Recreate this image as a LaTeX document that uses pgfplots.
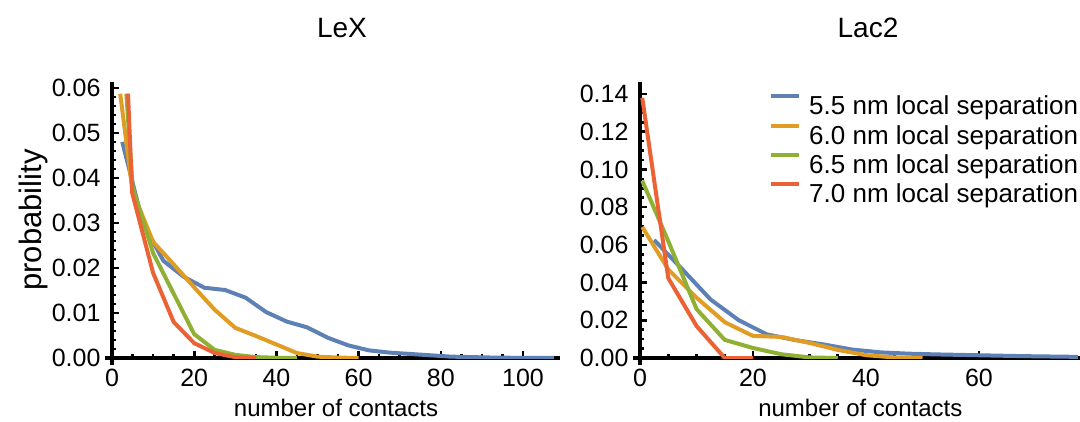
\documentclass[border=0pt]{standalone}
\usepackage{pgfplots}
\pgfplotsset{compat=1.18}
\usepackage{fontspec}
\setmainfont{Liberation Sans}
\definecolor{cB}{HTML}{5E81B5}
\definecolor{cO}{HTML}{E19C24}
\definecolor{cG}{HTML}{8FB032}
\definecolor{cR}{HTML}{EB6235}
\pgfplotsset{
 mstyle/.style={
  scale only axis, axis lines=left,
  axis line style={-, line width=3.2pt, black},
  x axis line style={shorten <=-7pt},
  y axis line style={shorten <=-7pt},
  tick align=inside,
  major tick length=7pt, minor tick length=4pt,
  every tick/.append style={black, line width=2.6pt},
  tick label style={font=\fontsize{25}{30}\selectfont},
  /pgf/number format/assume math mode=true,
  yticklabel style={/pgf/number format/fixed, /pgf/number format/fixed zerofill, /pgf/number format/precision=2, xshift=-8pt},
  xticklabel style={yshift=-8pt},
  scaled y ticks=false,
  xmin=0, ymin=0,
  minor x tick num=3,
  label style={font=\fontsize{24}{28}\selectfont},
  xlabel style={at={(axis description cs:0.5,0)}, anchor=base, yshift=-58pt},
  every axis plot/.append style={line width=4pt, line join=round, mark=none},
 }
}
\begin{document}
\begin{tikzpicture}
\begin{axis}[mstyle,
  at={(112pt,63pt)}, anchor=south west,
  width=448pt, height=276pt,
  xmax=109, ymax=0.0613,
  xtick={0,20,40,60,80,100},
  ytick={0,0.01,0.02,0.03,0.04,0.05,0.06},
  minor y tick num=4,
  xlabel={number of contacts},
  ylabel={probability},
  ylabel style={at={(axis description cs:-0.176,0.5)}, anchor=center, font=\fontsize{31}{36}\selectfont},
]
\addplot[cB] coordinates {(2.5,0.048) (7.5,0.030) (12.5,0.0216) (17.5,0.0180) (22.5,0.0156) (27.5,0.0151) (32.5,0.0134) (37.5,0.0102) (42.5,0.0081) (47.5,0.0068) (52.5,0.0045) (57.5,0.0028) (62.5,0.0017) (67.5,0.0012) (72.5,0.0009) (77.5,0.0006) (82.5,0.0003) (87.5,0.0002) (92.5,0.0001) (97.5,0.00005) (102.5,0.00003) (107.5,0.00001)};
\addplot[cO] coordinates {(2.0,0.0587) (5,0.037) (10,0.0258) (15,0.0208) (20,0.0157) (25,0.0107) (30,0.0067) (35,0.0049) (40,0.0030) (45,0.0011) (50,0.0003) (55,0.0001) (60,0)};
\addplot[cG] coordinates {(3.5,0.0587) (5,0.038) (10,0.0233) (15,0.0143) (20,0.0053) (25,0.0018) (30,0.0007) (35,0.0002) (40,0.00005) (45,0)};
\addplot[cR] coordinates {(3.9,0.0587) (4.9,0.0367) (10,0.0189) (15,0.0080) (20,0.0033) (25,0.0011) (30,0.0002) (35,0)};
\end{axis}
\begin{axis}[mstyle,
  at={(640pt,63pt)}, anchor=south west,
  width=440.7pt, height=276pt,
  xmax=78, ymax=0.1464,
  xtick={0,20,40,60},
  ytick={0,0.02,0.04,0.06,0.08,0.10,0.12,0.14},
  minor y tick num=3,
  xlabel={number of contacts},
  legend style={draw=none, fill=none, at={(axis description cs:0.286,0.963)}, anchor=north west,
    font=\fontsize{26}{30}\selectfont, row sep=8.8pt, column sep=8pt, nodes={inner sep=0pt, text depth=0pt}},
  legend cell align=left,
  legend image code/.code={\draw[#1, line width=4pt] (0pt,9pt) -- (28pt,9pt);},
]
\addplot[cB] coordinates {(2.5,0.0626) (7.5,0.047) (12.5,0.031) (17.5,0.020) (22.5,0.0125) (27.5,0.0095) (32.5,0.0072) (37.5,0.0045) (42.5,0.0030) (47.5,0.0023) (52.5,0.0019) (57.5,0.0016) (62.5,0.0013) (67.5,0.0010) (72.5,0.0008) (77.5,0.0006)};
\addlegendentry{5.5 nm local separation}
\addplot[cO] coordinates {(0.4,0.0695) (5,0.047) (10,0.032) (15,0.019) (20,0.0117) (25,0.0112) (30,0.008) (35,0.0043) (40,0.0015) (45,0.0003) (50,0)};
\addlegendentry{6.0 nm local separation}
\addplot[cG] coordinates {(0.4,0.094) (5,0.062) (10,0.026) (15,0.0096) (20,0.0053) (25,0.002) (30,0.0003) (35,0)};
\addlegendentry{6.5 nm local separation}
\addplot[cR] coordinates {(0.4,0.138) (5,0.0424) (10,0.017) (15,0) (20,0)};
\addlegendentry{7.0 nm local separation}
\end{axis}
\node[font=\fontsize{28}{32}\selectfont, anchor=base] at (342pt,383pt) {LeX};
\node[font=\fontsize{28}{32}\selectfont, anchor=base] at (868pt,383pt) {Lac2};
\pgfresetboundingbox
\path[use as bounding box] (0pt,0pt) rectangle (1080pt,421pt);
\end{tikzpicture}
\end{document}
